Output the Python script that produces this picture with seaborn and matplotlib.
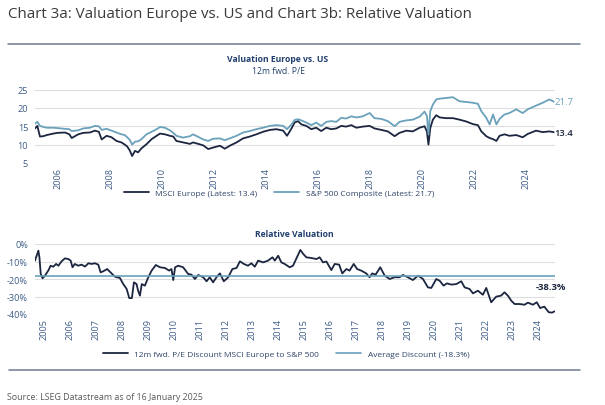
import numpy as np
import pandas as pd
import matplotlib
matplotlib.use("Agg")
import matplotlib.pyplot as plt
import seaborn as sns
from matplotlib.lines import Line2D

# --- Chart 3a: 12m fwd. P/E (decimal years) ---
top_dates = [
    2005.13, 2005.22, 2005.32, 2005.45, 2005.58, 2005.83, 2006.00, 2006.28, 2006.45, 2006.54,
    2006.79, 2006.98, 2007.24, 2007.43, 2007.58, 2007.69, 2007.88, 2008.07, 2008.26, 2008.45,
    2008.58, 2008.67, 2008.77, 2008.86, 2008.97, 2009.09, 2009.22, 2009.41, 2009.61, 2009.80,
    2009.93, 2010.12, 2010.31, 2010.44, 2010.56, 2010.82, 2011.08, 2011.20, 2011.40, 2011.59,
    2011.78, 2011.97, 2012.23, 2012.42, 2012.61, 2012.87, 2013.12, 2013.38, 2013.63, 2013.89,
    2014.15, 2014.40, 2014.66, 2014.81, 2014.98, 2015.10, 2015.23, 2015.36, 2015.55, 2015.74,
    2015.93, 2016.12, 2016.32, 2016.51, 2016.70, 2016.89, 2017.08, 2017.28, 2017.47, 2017.72,
    2017.98, 2018.17, 2018.43, 2018.68, 2018.94, 2019.13, 2019.39, 2019.64, 2019.90, 2020.09,
    2020.18, 2020.24, 2020.31, 2020.41, 2020.54, 2020.67, 2020.92, 2021.18, 2021.43, 2021.69,
    2021.94, 2022.14, 2022.27, 2022.46, 2022.59, 2022.72, 2022.85, 2022.97, 2023.16, 2023.35,
    2023.61, 2023.86, 2024.05, 2024.37, 2024.63, 2024.88, 2025.05,
]
msci_europe = [
    14.4, 15.1, 12.2, 12.3, 12.6, 13.0, 13.2, 13.3, 12.8, 11.8,
    12.8, 13.2, 13.3, 13.8, 13.5, 11.4, 12.4, 12.0, 11.0, 10.6,
    10.0, 9.5, 8.4, 6.9, 8.3, 7.9, 9.0, 10.1, 11.5, 12.4,
    13.0, 12.8, 12.4, 12.2, 11.0, 10.6, 10.2, 10.6, 10.2, 9.8,
    8.8, 9.2, 9.7, 8.9, 9.7, 10.6, 11.7, 12.2, 12.8, 13.5,
    14.0, 14.2, 13.8, 12.4, 14.4, 16.0, 16.4, 15.5, 15.1, 14.2,
    14.6, 13.7, 14.6, 14.2, 14.4, 15.1, 14.9, 15.3, 14.6, 14.9,
    15.1, 14.4, 14.0, 13.6, 12.3, 13.2, 13.8, 13.6, 14.6, 15.0,
    13.6, 10.0, 14.5, 16.8, 18.0, 17.4, 17.2, 17.2, 16.8, 16.3,
    15.6, 15.3, 13.6, 12.3, 11.8, 11.5, 11.0, 12.4, 12.8, 12.4,
    12.6, 12.0, 12.9, 13.8, 13.4, 13.6, 13.4,
]
sp500 = [
    15.7, 16.2, 15.1, 14.8, 14.6, 14.6, 14.5, 14.3, 14.2, 13.7,
    13.9, 14.4, 14.6, 15.1, 15.0, 14.0, 14.3, 13.8, 13.3, 12.8,
    12.6, 12.0, 11.3, 10.0, 10.8, 10.9, 11.5, 12.8, 13.5, 14.2,
    14.8, 14.6, 13.9, 13.2, 12.4, 11.9, 12.3, 12.8, 12.1, 11.4,
    11.0, 11.6, 11.7, 11.2, 11.7, 12.4, 13.3, 13.7, 14.2, 14.6,
    15.1, 15.3, 15.1, 14.2, 15.5, 16.7, 16.9, 16.6, 16.0, 15.3,
    16.0, 15.1, 16.2, 16.4, 16.2, 17.3, 17.1, 17.7, 17.4, 17.7,
    18.6, 17.2, 17.0, 16.4, 15.0, 16.2, 16.6, 16.8, 17.6, 19.0,
    17.8, 12.8, 19.1, 20.9, 22.3, 22.5, 22.7, 22.9, 21.8, 21.6,
    21.4, 21.1, 19.1, 17.3, 15.5, 18.2, 15.5, 17.0, 18.2, 18.6,
    19.6, 18.6, 19.6, 20.6, 21.4, 22.3, 21.7,
]

# --- Chart 3b: P/E discount MSCI Europe to S&P 500 (%) ---
rel_dates = [
    2005.13, 2005.26, 2005.30, 2005.35, 2005.42, 2005.51, 2005.64, 2005.73, 2005.83, 2005.94,
    2006.03, 2006.15, 2006.28, 2006.41, 2006.50, 2006.57, 2006.66, 2006.79, 2006.92, 2007.05,
    2007.18, 2007.30, 2007.43, 2007.56, 2007.65, 2007.75, 2007.90, 2008.03, 2008.20, 2008.39,
    2008.52, 2008.65, 2008.75, 2008.85, 2008.93, 2009.03, 2009.09, 2009.16, 2009.23, 2009.35,
    2009.48, 2009.61, 2009.77, 2009.93, 2010.12, 2010.28, 2010.37, 2010.44, 2010.51, 2010.63,
    2010.82, 2011.01, 2011.14, 2011.27, 2011.40, 2011.59, 2011.72, 2011.84, 2011.97, 2012.10,
    2012.23, 2012.38, 2012.55, 2012.71, 2012.87, 2013.00, 2013.15, 2013.31, 2013.44, 2013.57,
    2013.70, 2013.89, 2014.08, 2014.25, 2014.34, 2014.47, 2014.59, 2014.72, 2014.91, 2015.04,
    2015.19, 2015.32, 2015.42, 2015.55, 2015.74, 2015.94, 2016.06, 2016.19, 2016.32, 2016.51,
    2016.64, 2016.81, 2016.93, 2017.09, 2017.21, 2017.37, 2017.50, 2017.66, 2017.85, 2017.98,
    2018.08, 2018.21, 2018.39, 2018.56, 2018.75, 2018.94, 2019.13, 2019.26, 2019.45, 2019.64,
    2019.84, 2020.03, 2020.22, 2020.35, 2020.54, 2020.67, 2020.82, 2020.95, 2021.12, 2021.31,
    2021.50, 2021.63, 2021.82, 2021.95, 2022.14, 2022.33, 2022.46, 2022.65, 2022.84, 2023.03,
    2023.16, 2023.29, 2023.42, 2023.55, 2023.74, 2023.93, 2024.06, 2024.25, 2024.40, 2024.53,
    2024.69, 2024.86, 2024.99, 2025.08,
]
rel_discount = [
    -9.5, -3.8, -7.6, -17.1, -19.6, -18.1, -15.2, -12.4, -13.0, -11.4,
    -12.4, -9.9, -8.2, -8.6, -9.5, -13.3, -11.4, -12.4, -11.8, -12.9,
    -11.0, -11.4, -11.0, -11.8, -16.2, -15.6, -14.3, -16.2, -18.7, -19.4,
    -22.9, -25.7, -30.9, -30.9, -21.9, -22.9, -26.7, -29.5, -22.9, -23.8,
    -19.0, -15.2, -12.0, -13.3, -13.7, -15.2, -14.3, -20.6, -13.3, -12.4,
    -13.3, -17.1, -17.5, -20.0, -17.7, -19.0, -21.3, -19.0, -21.9, -19.0,
    -16.8, -21.3, -19.0, -14.3, -13.7, -9.9, -11.4, -12.4, -11.0, -13.0,
    -9.5, -10.5, -9.5, -7.6, -9.5, -6.7, -10.5, -11.4, -13.3, -12.4,
    -7.6, -3.4, -5.5, -7.6, -8.0, -8.6, -7.6, -10.5, -10.0, -14.9,
    -11.4, -11.8, -16.8, -14.3, -15.2, -11.4, -14.3, -15.2, -16.8, -19.0,
    -16.8, -17.5, -13.3, -18.1, -20.0, -19.0, -19.0, -17.7, -19.0, -20.6,
    -18.1, -20.0, -24.8, -25.1, -20.0, -21.0, -23.8, -22.5, -23.2, -22.9,
    -21.3, -24.8, -25.7, -28.2, -26.7, -29.0, -25.1, -33.3, -30.1, -29.5,
    -27.6, -29.5, -32.4, -34.3, -34.3, -34.7, -33.5, -34.7, -33.3, -36.6,
    -35.8, -39.0, -39.2, -38.5,
]
avg_discount = -18.3
latest_europe, latest_sp, latest_rel = 13.4, 21.7, -38.3

top_years = list(range(2006, 2025, 2))
rel_years = list(range(2005, 2025))

NAVY = "#1c2640"
TEAL = "#6aa1bb"
TICK = "#3d5c86"
LEG = "#2e4468"
HEAD = "#22406e"
GRID = "#dedede"

sns.set_theme(style="white")
plt.rcParams["font.family"] = ["Open Sans", "DejaVu Sans"]

W, H = 605, 406
fig = plt.figure(figsize=(W / 100, H / 100), dpi=100)


def px_axes(left, top, right, bottom):
    return fig.add_axes([left / W, 1 - bottom / H, (right - left) / W, (bottom - top) / H])


def style_axes(ax):
    sns.despine(ax=ax, left=True, bottom=True, right=True, top=True)
    ax.grid(axis="y", color=GRID, lw=0.8)
    ax.grid(axis="x", visible=False)
    ax.tick_params(axis="both", length=0, labelsize=6.6, colors=TICK)
    ax.set_xlabel("")
    ax.set_ylabel("")


# ---- Top panel ----
top = pd.DataFrame({"date": top_dates, "eu": msci_europe, "sp": sp500})
ax1 = px_axes(35, 90.5, 555, 164)
sns.lineplot(data=top, x="date", y="eu", ax=ax1, color=NAVY, lw=1.3,
             label=f"MSCI Europe (Latest: {latest_europe})")
sns.lineplot(data=top, x="date", y="sp", ax=ax1, color=TEAL, lw=1.3,
             label=f"S&P 500 Composite (Latest: {latest_sp})")
ax1.set_xlim(2005.13, 2025.1)
ax1.set_ylim(5, 25)
ax1.set_yticks([5, 10, 15, 20, 25])
ax1.set_xticks(top_years)
ax1.set_xticklabels([str(y) for y in top_years], rotation=90)
style_axes(ax1)
ax1.tick_params(axis="x", pad=3)
ax1.tick_params(axis="y", pad=5)
ax1.text(top_dates[-1] + 0.02, latest_sp, f"{latest_sp}", color=TEAL, fontsize=6.8,
         va="center", ha="left", clip_on=False)
ax1.text(top_dates[-1] + 0.02, latest_europe, f"{latest_europe}", color=NAVY, fontsize=6.8,
         va="center", ha="left", clip_on=False, fontweight="semibold")
ax1.legend_.remove()
h1, l1 = ax1.get_legend_handles_labels()
fig.legend(h1, l1, loc="center", bbox_to_anchor=(279 / W, 1 - 194 / H), ncol=2, frameon=False,
           fontsize=6.0, labelcolor=LEG, handlelength=3.0, handletextpad=0.8, columnspacing=2.0)

fig.text(278 / W, 1 - 60 / H, "Valuation Europe vs. US", ha="center", va="center",
         fontsize=6.2, fontweight="bold", color=HEAD)
fig.text(278 / W, 1 - 72 / H, "12m fwd. P/E", ha="center", va="center",
         fontsize=6.2, color=HEAD)

# ---- Bottom panel ----
rel = pd.DataFrame({"date": rel_dates, "disc": rel_discount})
ax2 = px_axes(35, 245, 555, 315)
sns.lineplot(data=rel, x="date", y="disc", ax=ax2, color=NAVY, lw=1.3,
             label="12m fwd. P/E Discount MSCI Europe to S&P 500")
ax2.axhline(avg_discount, color=TEAL, lw=1.2, label=f"Average Discount ({avg_discount}%)")
ax2.set_xlim(2005.13, 2025.1)
ax2.set_ylim(-40, 0)
ax2.set_yticks([0, -10, -20, -30, -40])
ax2.set_yticklabels([f"{v}%" for v in [0, -10, -20, -30, -40]])
ax2.set_xticks([y + 0.46 for y in rel_years])
ax2.set_xticklabels([str(y) for y in rel_years], rotation=90)
style_axes(ax2)
ax2.tick_params(axis="x", pad=3)
ax2.tick_params(axis="y", pad=5)
ax2.text(2024.35, -24.5, f"{latest_rel}%", color=NAVY, fontsize=6.8, fontweight="bold",
         ha="left", va="center", clip_on=False)
ax2.legend_.remove()
h2, l2 = ax2.get_legend_handles_labels()
fig.legend(h2, l2, loc="center", bbox_to_anchor=(286 / W, 1 - 355 / H), ncol=2, frameon=False,
           fontsize=6.0, labelcolor=LEG, handlelength=3.0, handletextpad=0.8, columnspacing=2.0)

fig.text(294 / W, 1 - 235 / H, "Relative Valuation", ha="center", va="center",
         fontsize=6.2, fontweight="bold", color=HEAD)

# ---- Frame: title, rules, source ----
fig.text(8 / W, 1 - 14 / H, "Chart 3a: Valuation Europe vs. US and Chart 3b: Relative Valuation",
         ha="left", va="center", fontsize=10.9, color="#3a3a3a")
fig.add_artist(Line2D([8 / W, 580 / W], [1 - 45 / H] * 2, color="#6e7b8e", lw=1.1))
fig.add_artist(Line2D([9 / W, 580 / W], [1 - 371 / H] * 2, color="#6e7b8e", lw=1.1))
fig.text(7 / W, 1 - 398 / H, "Source: LSEG Datastream as of 16 January 2025",
         ha="left", va="center", fontsize=6.4, color="#5a5a5a")

fig.savefig("out.png", dpi=100)
